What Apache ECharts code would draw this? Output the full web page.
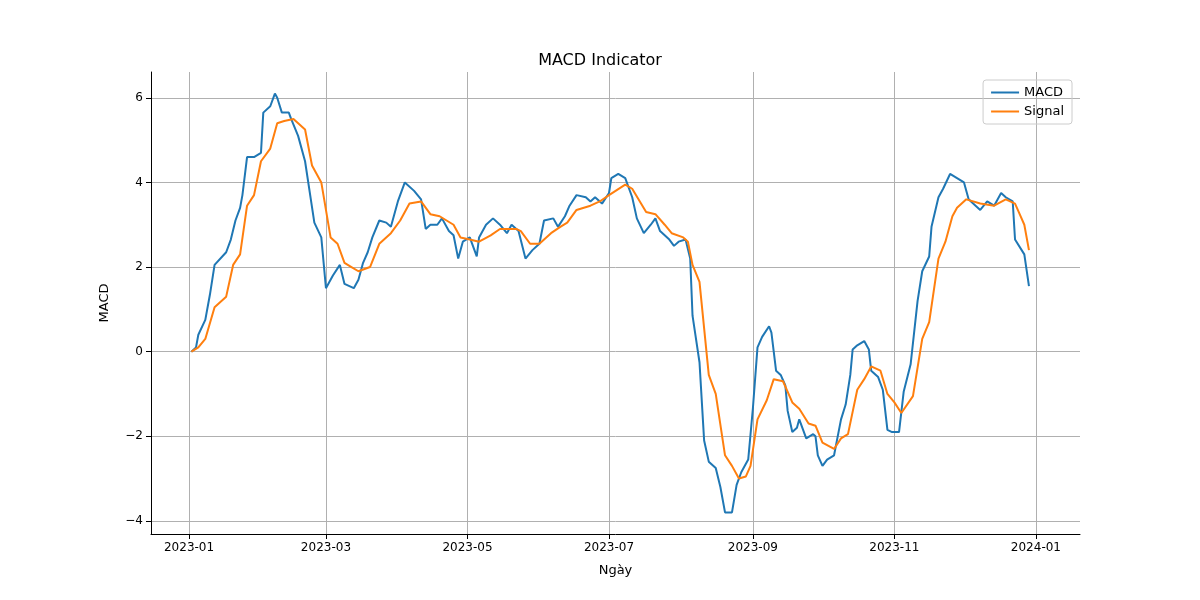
<!DOCTYPE html>
<html><head><meta charset="utf-8">
<script src="https://cdn.jsdelivr.net/npm/echarts@6/dist/echarts.min.js"></script>
<style>html,body{margin:0;background:#fff}#c{width:1200px;height:600px}</style>
</head><body><div id="c"></div>
<script>
// days since 2023-01-01
const macdDays=[1,3,4,7,9,11,16,18,20,22,23,25,28,31,32,35,37,38,40,43,44,47,50,54,57,59,62,65,67,71,73,75,77,79,82,85,87,90,93,97,100,102,104,107,109,112,114,116,118,121,124,125,128,131,134,137,139,142,145,148,151,153,157,159,162,164,167,171,173,175,178,181,182,185,188,191,193,196,199,201,203,207,209,211,214,216,217,220,222,224,227,229,231,234,236,238,241,243,245,247,250,251,253,255,257,258,260,262,263,266,269,270,271,273,275,278,281,283,285,286,288,291,293,294,297,299,301,303,306,308,311,314,316,319,320,323,325,328,331,334,336,339,341,344,347,350,352,355,356,360,362];
const macdVals=[0,0.1,0.4,0.75,1.35,2.05,2.35,2.65,3.1,3.4,3.7,4.6,4.6,4.7,5.65,5.8,6.1,6.0,5.65,5.65,5.5,5.1,4.5,3.05,2.7,1.5,1.8,2.05,1.6,1.5,1.7,2.1,2.35,2.7,3.1,3.05,2.95,3.55,4.0,3.8,3.6,2.9,3.0,3.0,3.15,2.85,2.75,2.2,2.6,2.7,2.25,2.7,3.0,3.15,3.0,2.8,3.0,2.85,2.2,2.4,2.55,3.1,3.15,2.95,3.2,3.45,3.7,3.65,3.55,3.65,3.5,3.75,4.1,4.2,4.1,3.65,3.15,2.8,3.0,3.15,2.85,2.65,2.5,2.6,2.65,2.2,0.85,-0.25,-2.1,-2.6,-2.75,-3.2,-3.8,-3.8,-3.15,-2.85,-2.55,-1.35,0.1,0.35,0.6,0.45,-0.45,-0.55,-0.8,-1.4,-1.9,-1.8,-1.6,-2.05,-1.95,-2.0,-2.45,-2.7,-2.55,-2.45,-1.6,-1.25,-0.55,0.05,0.15,0.25,0.05,-0.45,-0.6,-0.9,-1.85,-1.9,-1.9,-0.95,-0.3,1.2,1.9,2.25,2.95,3.65,3.85,4.2,4.1,4.0,3.6,3.45,3.35,3.55,3.45,3.75,3.65,3.55,2.65,2.3,1.55];
const sigDays=[1,4,7,11,16,19,22,25,28,31,35,38,41,45,50,53,57,61,64,67,70,73,78,82,87,91,95,100,104,108,114,117,121,125,130,134,141,143,147,151,156,160,163,167,173,177,181,188,191,197,201,205,208,213,215,217,220,224,227,231,234,237,240,242,245,249,252,256,260,263,267,270,273,278,281,284,288,291,294,298,301,304,307,312,316,319,323,326,329,331,335,341,347,352,356,358,360,362];
const sigVals=[0,0.1,0.3,1.05,1.3,2.05,2.3,3.45,3.7,4.5,4.8,5.4,5.45,5.5,5.25,4.4,4.0,2.7,2.55,2.1,2.0,1.9,2.0,2.55,2.8,3.1,3.5,3.55,3.25,3.2,3.0,2.7,2.65,2.6,2.75,2.9,2.9,2.85,2.55,2.55,2.8,2.95,3.05,3.35,3.45,3.55,3.7,3.95,3.85,3.3,3.25,3.0,2.8,2.7,2.6,2.05,1.65,-0.55,-1.0,-2.45,-2.7,-3.0,-2.95,-2.7,-1.6,-1.15,-0.65,-0.7,-1.2,-1.35,-1.7,-1.75,-2.15,-2.3,-2.05,-1.95,-0.9,-0.65,-0.35,-0.45,-1.0,-1.2,-1.45,-1.05,0.3,0.7,2.2,2.6,3.2,3.4,3.6,3.5,3.45,3.6,3.5,3.25,3.0,2.4];
const tickLabels=['2023-01','2023-03','2023-05','2023-07','2023-09','2023-11','2024-01'];
const base=Date.UTC(2023,0,1), DAY=86400000;
const tickDays=tickLabels.map(s=>{const [y,m]=s.split('-').map(Number);return Math.round((Date.UTC(y,m-1,1)-base)/DAY);});
const toPts=(d,v)=>d.map((x,i)=>[x,v[i]]);
const font='DejaVu Sans';
const chart=echarts.init(document.getElementById('c'));
chart.setOption({
 animation:false,
 textStyle:{fontFamily:font},
 title:{text:'MACD Indicator',left:'center',top:48,textStyle:{fontFamily:font,fontWeight:'normal',fontSize:16,color:'#000'}},
 grid:{left:151,right:120,top:72,bottom:66},
 legend:{top:80,right:128,orient:'vertical',itemWidth:28,itemHeight:2,icon:'rect',borderColor:'#ccc',borderWidth:1,borderRadius:3,padding:[6,8],itemGap:6,textStyle:{fontFamily:font,fontSize:13,color:'#000'},data:['MACD','Signal']},
 xAxis:{type:'value',min:-16.4,max:384,
  name:'Ngày',nameLocation:'middle',nameGap:30,nameTextStyle:{fontFamily:font,fontSize:13,color:'#000'},
  axisLine:{onZero:false,lineStyle:{color:'#000'}},
  axisTick:{show:true,customValues:tickDays,lineStyle:{color:'#000'}},
  axisLabel:{customValues:tickDays,formatter:v=>tickLabels[tickDays.indexOf(Math.round(v))]||'',color:'#000',fontSize:12,fontFamily:font},
  splitLine:{show:true,lineStyle:{color:'#b0b0b0'}}},
 yAxis:{type:'value',min:-4.31,max:6.61,
  name:'MACD',nameLocation:'middle',nameGap:40,nameTextStyle:{fontFamily:font,fontSize:13,color:'#000'},
  axisLine:{show:true,onZero:false,lineStyle:{color:'#000'}},axisTick:{show:true,customValues:[-4,-2,0,2,4,6]},
  axisLabel:{customValues:[-4,-2,0,2,4,6],formatter:v=>v<0?'\u2212'+Math.abs(v):String(v),color:'#000',fontSize:12,fontFamily:font},
  splitLine:{show:true,lineStyle:{color:'#b0b0b0'}}},
 series:[
  {name:'MACD',type:'line',showSymbol:false,data:toPts(macdDays,macdVals),lineStyle:{color:'#1f77b4',width:2},itemStyle:{color:'#1f77b4'}},
  {name:'Signal',type:'line',showSymbol:false,data:toPts(sigDays,sigVals),lineStyle:{color:'#ff7f0e',width:2},itemStyle:{color:'#ff7f0e'}}
 ]
});
</script></body></html>
